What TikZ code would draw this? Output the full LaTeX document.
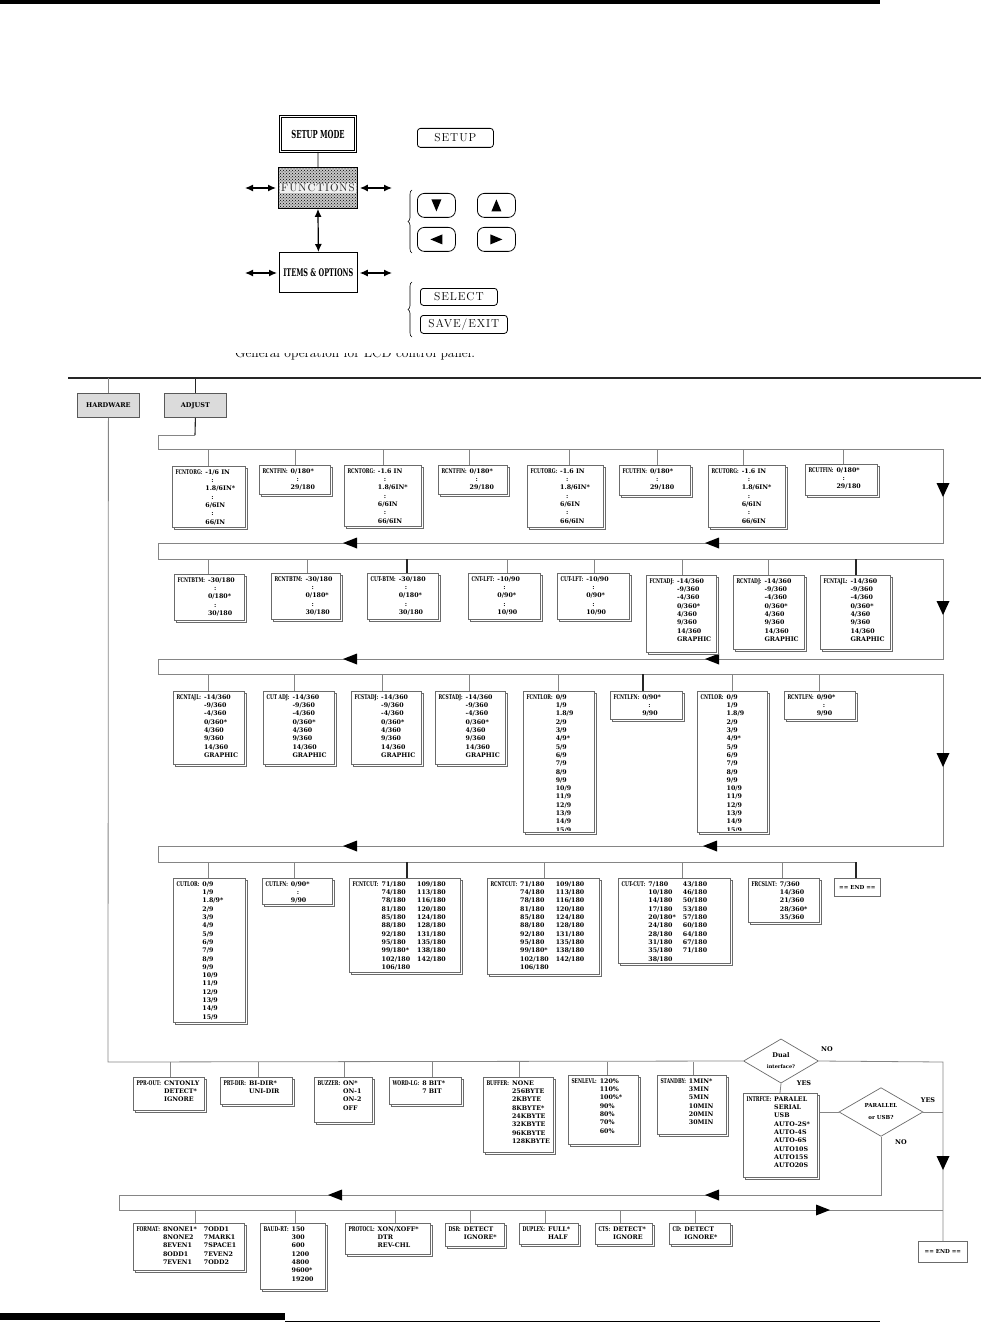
\documentclass[tikz,border=0pt]{standalone}
\usepackage{fontspec}
\usetikzlibrary{shapes.geometric,shadows,patterns,decorations.pathreplacing,arrows.meta}
\newfontfamily\vfam{DejaVu Serif}
\newfontfamily\lfam{DejaVu Serif}[FakeStretch=0.68]
\newfontfamily\cfam{DejaVu Serif}[FakeStretch=0.62]
\newfontfamily\bfam{Latin Modern Roman}[LetterSpace=8]
\definecolor{bd}{gray}{0.42}
\definecolor{bl}{gray}{0.52}
\newcommand\lb[1]{{\lfam\bfseries\fontsize{6.5}{8.3}\selectfont #1}}
\newcommand\cn{\hspace{6pt}:}
\newcommand\vt[1]{{\vfam\bfseries\fontsize{6.3}{8.3}\selectfont\begin{tabular}{@{}l@{\hspace{3pt}}l@{}}#1\end{tabular}}}
\newcommand\vtt[1]{{\vfam\bfseries\fontsize{6.3}{8.3}\selectfont\begin{tabular}{@{}l@{\hspace{3pt}}l@{\hspace{7pt}}l@{}}#1\end{tabular}}}
\newcommand\adjrest{\\ & -9/360\\ & -4/360\\ & 0/360*\\ & 4/360\\ & 9/360\\ & 14/360\\ & GRAPHIC}
\newcommand\lorA{\\ & 1/9\\ & 1.8/9\\ & 2/9\\ & 3/9\\ & 4/9*\\ & 5/9\\ & 6/9\\ & 7/9\\ & 8/9\\ & 9/9\\ & 10/9\\ & 11/9\\ & 12/9\\ & 13/9\\ & 14/9\\ & 15/9}
\newcommand\lorB{\\ & 1/9\\ & 1.8/9*\\ & 2/9\\ & 3/9\\ & 4/9\\ & 5/9\\ & 6/9\\ & 7/9\\ & 8/9\\ & 9/9\\ & 10/9\\ & 11/9\\ & 12/9\\ & 13/9\\ & 14/9\\ & 15/9}
\newcommand\cutrest{\\ & 74/180 & 113/180\\ & 78/180 & 116/180\\ & 81/180 & 120/180\\ & 85/180 & 124/180\\ & 88/180 & 128/180\\ & 92/180 & 131/180\\ & 95/180 & 135/180\\ & 99/180* & 138/180\\ & 102/180 & 142/180\\ & 106/180 &}
\newcommand\obx[6]{%
  \node[obox,minimum width=#4pt,minimum height=#5pt] (#1) at (#2,#3) {};
  \node[otxt] at ([xshift=3.5pt,yshift=-2.5pt]#1.north west) {#6};}
\newcommand\obxc[6]{%
  \node[obox,minimum width=#4pt,minimum height=#5pt] (#1) at (#2,#3) {};
  \begin{scope}
  \clip ([shift={(0.5pt,-0.5pt)}]#1.north west) rectangle ([shift={(-0.5pt,1.5pt)}]#1.south east);
  \node[otxt] at ([xshift=3.5pt,yshift=-2.5pt]#1.north west) {#6};
  \end{scope}}
\newcommand\drop[4][bus]{\draw[#1] (#2,#3) -- (#2,0 |- #4.north);}
\newcommand\tdn[2]{\fill[shift={(#1,#2)}] (-6.5,-7) -- (6.5,-7) -- (0,7) -- cycle;}
\newcommand\tlf[2]{\fill[shift={(#1,#2)}] (-7,0) -- (7,-5.5) -- (7,5.5) -- cycle;}
\newcommand\trt[2]{\fill[shift={(#1,#2)}] (7,0) -- (-7,-5.5) -- (-7,5.5) -- cycle;}
\begin{document}
\begin{tikzpicture}[x=1pt,y=-1pt,
  obox/.style={draw=bd,fill=white,line width=0.7pt,inner sep=0pt,outer sep=0pt,anchor=north west,
    drop shadow={shadow xshift=2.5pt,shadow yshift=-2.5pt,fill=white,draw=bd,opacity=1,line width=0.7pt}},
  otxt/.style={anchor=north west,inner sep=0pt,outer sep=0pt},
  bus/.style={draw=bl,line width=0.8pt},
  busd/.style={draw=black!85,line width=1.1pt},
  hwbox/.style={draw=gray!70!black,fill=gray!28,line width=0.8pt,anchor=north west,minimum width=62pt,
    minimum height=24pt,inner sep=0pt,font=\vfam\bfseries\fontsize{6.5}{8}\selectfont},
  endbox/.style={draw=bd,fill=white,line width=0.7pt,anchor=north west,inner sep=0pt,
    font=\vfam\bfseries\fontsize{5.5}{7}\selectfont},
  dia/.style={diamond,draw=bd,fill=white,line width=0.7pt,inner sep=0pt,align=center},
  yn/.style={font=\vfam\bfseries\fontsize{6.5}{8}\selectfont,inner sep=0pt},
  btn/.style={draw,line width=0.8pt,rounded corners=3pt,anchor=north west,inner sep=0pt,
    font=\bfam\fontsize{11.5}{12}\selectfont},
  abtn/.style={draw,line width=0.8pt,rounded corners=7pt,anchor=north west,inner sep=0pt,
    minimum width=38pt,minimum height=24pt},
  dbl/.style={{Latex[length=8pt,width=7pt]}-{Latex[length=8pt,width=7pt]},line width=1.2pt}]
\useasboundingbox (0,0) rectangle (981,1324);
\fill (0,0) rectangle (880,4);

% ---------- top: LCD panel ----------
\node[draw,double,double distance=1.6pt,line width=0.9pt,minimum width=75pt,minimum height=35pt,
  inner sep=0pt,font=\cfam\bfseries\fontsize{11}{12}\selectfont] (smode) at (318,134) {SETUP MODE};
\node[draw,line width=0.9pt,minimum width=79pt,minimum height=41pt,anchor=north west,inner sep=0pt,
  preaction={fill=gray!45},pattern=crosshatch dots,pattern color=black] (func) at (278,167) {};
\node[fill=gray!12,inner sep=1pt,font=\bfam\fontsize{11}{12}\selectfont,text=black!85] (funct) at (func.center) {FUNCTIONS};
\node[draw,line width=0.8pt,minimum width=78pt,minimum height=40pt,anchor=north west,inner sep=0pt,
  font=\cfam\bfseries\fontsize{10.5}{12}\selectfont] (items) at (279,252) {ITEMS \& OPTIONS};
\draw[line width=0.8pt] (smode.south) -- (func.north);
\draw[dbl] (func.south) -- (items.north);
\coordinate (fl) at (245,188); \coordinate (fr) at (392,188);
\coordinate (il) at (245,273); \coordinate (ir) at (392,273);
\draw[dbl] (fl) -- ([xshift=-2pt]func.west |- fl);
\draw[dbl] ([xshift=2pt]func.east |- fr) -- (fr);
\draw[dbl] (il) -- ([xshift=-2pt]items.west |- il);
\draw[dbl] ([xshift=2pt]items.east |- ir) -- (ir);

\node[btn,minimum width=76pt,minimum height=19pt] (bsetup) at (417,128) {SETUP};
\node[abtn] (bdn) at (417,193) {};
\node[abtn] (bup) at (477,193) {};
\node[abtn] (blf) at (417,227) {};
\node[abtn] (brt) at (477,227) {};
\fill[shift={(bdn.center)}] (-5,-6) -- (5,-6) -- (0,6) -- cycle;
\fill[shift={(bup.center)}] (-5,6) -- (5,6) -- (0,-6) -- cycle;
\fill[shift={(blf.center)}] (-6,0) -- (6,-5) -- (6,5) -- cycle;
\fill[shift={(brt.center)}] (6,0) -- (-6,-5) -- (-6,5) -- cycle;
\node[btn,minimum width=77pt,minimum height=17pt] (bsel) at (420,288) {SELECT};
\node[btn,minimum width=87pt,minimum height=18pt] (bsave) at (420,315) {SAVE/EXIT};
\draw[decorate,decoration={brace,amplitude=4pt},line width=0.6pt] (412,253) -- (412,190);
\draw[decorate,decoration={brace,amplitude=4pt},line width=0.6pt] (412,337) -- (412,282);
\begin{scope}
\clip (200,353.2) rectangle (540,366);
\node[anchor=base west,inner sep=0pt,font=\fontsize{13.5}{15}\selectfont] (cap) at (235,357)
  {General operation for LCD control panel.};
\end{scope}

% ---------- main tree ----------
\draw[line width=1.6pt,black!85] (68,378) -- (981,378);
\node[hwbox] (hw) at (77,393) {HARDWARE};
\node[hwbox] (adj) at (164,393) {ADJUST};
\draw[bus] (hw.north |- 0,378) -- (hw.north);
\draw[busd] (adj.north |- 0,378) -- (adj.north);
\draw[busd] (adj.south) -- (195,435);
\draw[bus] (195,435) -- (158,435) -- (158,449) -- (943,449) -- (943,543) -- (158,543) -- (158,559)
  -- (943,559) -- (943,659) -- (158,659) -- (158,674) -- (943,674) -- (943,846) -- (158,846)
  -- (158,862) -- (856,862);
\tdn{943}{490} \tdn{943}{608} \tdn{943}{760}
\tlf{350}{543} \tlf{712}{543} \tlf{350}{659} \tlf{712}{659} \tlf{350}{846} \tlf{710}{846}

% row 1
\obx{fcntorg}{172}{466}{73}{61}{\vt{\lb{FCNTORG:} & -1/6 IN\\ & \cn\\ & 1.8/6IN*\\ & \cn\\ & 6/6IN\\ & \cn\\ & 66/IN}}
\obx{rcntfina}{259}{465}{71}{29}{\vt{\lb{RCNTFIN:} & 0/180*\\ & \cn\\ & 29/180}}
\obx{rcntorg}{344}{465}{77}{61}{\vt{\lb{RCNTORG:} & -1.6 IN\\ & \cn\\ & 1.8/6IN*\\ & \cn\\ & 6/6IN\\ & \cn\\ & 66/6IN}}
\obx{rcntfinb}{438}{465}{69}{29}{\vt{\lb{RCNTFIN:} & 0/180*\\ & \cn\\ & 29/180}}
\obx{fcutorg}{527}{465}{76}{62}{\vt{\lb{FCUTORG:} & -1.6 IN\\ & \cn\\ & 1.8/6IN*\\ & \cn\\ & 6/6IN\\ & \cn\\ & 66/6IN}}
\obx{fcutfin}{619}{465}{71}{30}{\vt{\lb{FCUTFIN:} & 0/180*\\ & \cn\\ & 29/180}}
\obx{rcutorg}{708}{465}{77}{62}{\vt{\lb{RCUTORG:} & -1.6 IN\\ & \cn\\ & 1.8/6IN*\\ & \cn\\ & 6/6IN\\ & \cn\\ & 66/6IN}}
\obx{rcutfin}{805}{464}{72}{31}{\vt{\lb{RCUTFIN:} & 0/180*\\ & \cn\\ & 29/180}}
\drop{208}{449}{fcntorg} \drop{295}{449}{rcntfina} \drop{383}{449}{rcntorg} \drop{469}{449}{rcntfinb}
\drop{569}{449}{fcutorg} \drop{657}{449}{fcutfin} \drop{743}{449}{rcutorg} \drop{843}{449}{rcutfin}

% row 2
\obx{fcntbtm}{174}{574}{70}{46}{\vt{\lb{FCNTBTM:} & -30/180\\ & \cn\\ & 0/180*\\ & \cn\\ & 30/180}}
\obx{rcntbtm}{271}{573}{69}{46}{\vt{\lb{RCNTBTM:} & -30/180\\ & \cn\\ & 0/180*\\ & \cn\\ & 30/180}}
\obx{cutbtm}{367}{573}{71}{46}{\vt{\lb{CUT-BTM:} & -30/180\\ & \cn\\ & 0/180*\\ & \cn\\ & 30/180}}
\obx{cntlft}{468}{573}{72}{46}{\vt{\lb{CNT-LFT:} & -10/90\\ & \cn\\ & 0/90*\\ & \cn\\ & 10/90}}
\obx{cutlft}{557}{573}{72}{46}{\vt{\lb{CUT-LFT:} & -10/90\\ & \cn\\ & 0/90*\\ & \cn\\ & 10/90}}
\obx{fcntadj}{646}{575}{70}{77}{\vt{\lb{FCNTADJ:} & -14/360\adjrest}}
\obx{rcntadj}{733}{575}{71}{74}{\vt{\lb{RCNTADJ:} & -14/360\adjrest}}
\obx{fcntajl}{820}{575}{70}{74}{\vt{\lb{FCNTAJL:} & -14/360\adjrest}}
\drop{208}{559}{fcntbtm} \drop{307}{559}{rcntbtm} \drop[busd]{407}{559}{cutbtm} \drop{507}{559}{cntlft}
\drop{594}{559}{cutlft} \drop{682}{559}{fcntadj} \drop{768}{559}{rcntadj} \drop[busd]{856}{559}{fcntajl}

% row 3
\obx{rcntajl}{173}{691}{71}{73}{\vt{\lb{RCNTAJL:} & -14/360\adjrest}}
\obx{cutadj}{263}{691}{71}{73}{\vt{\lb{CUT ADJ:} & -14/360\adjrest}}
\obx{fcstadj}{351}{691}{70}{73}{\vt{\lb{FCSTADJ:} & -14/360\adjrest}}
\obx{rcstadj}{435}{691}{70}{73}{\vt{\lb{RCSTADJ:} & -14/360\adjrest}}
\obxc{fcntlor}{523}{691}{71}{141}{\vt{\lb{FCNTLOR:} & 0/9\lorA}}
\obx{fcntlfn}{610}{691}{72}{28}{\vt{\lb{FCNTLFN:} & 0/90*\\ & \cn\\ & 9/90}}
\obxc{cntlor}{697}{691}{70}{141}{\vt{\lb{CNTLOR:} & 0/9\lorA}}
\obx{rcntlfn}{784}{691}{71}{28}{\vt{\lb{RCNTLFN:} & 0/90*\\ & \cn\\ & 9/90}}
\drop{208}{674}{rcntajl} \drop{294}{674}{cutadj} \drop{382}{674}{fcstadj} \drop{469}{674}{rcstadj}
\drop{558}{674}{fcntlor} \drop[busd]{643}{674}{fcntlfn} \drop{732}{674}{cntlor} \drop{819}{674}{rcntlfn}

% row 4
\obx{cutlor}{173}{878}{72}{144}{\vt{\lb{CUTLOR:} & 0/9\lorB}}
\obx{cutlfn}{262}{878}{70}{26}{\vt{\lb{CUTLFN:} & 0/90*\\ & \cn\\ & 9/90}}
\obx{fcntcut}{349}{878}{111}{94}{\vtt{\lb{FCNTCUT:} & 71/180 & 109/180\cutrest}}
\obx{rcntcut}{487}{878}{112}{96}{\vtt{\lb{RCNTCUT:} & 71/180 & 109/180\cutrest}}
\obx{cutcut}{618}{878}{112}{85}{\vtt{\lb{CUT-CUT:} & 7/180 & 43/180\\ & 10/180 & 46/180\\ & 14/180 & 50/180\\ & 17/180 & 53/180\\ & 20/180* & 57/180\\ & 24/180 & 60/180\\ & 28/180 & 64/180\\ & 31/180 & 67/180\\ & 35/180 & 71/180\\ & 38/180 &}}
\obx{frcslnt}{748}{878}{71}{44}{\vt{\lb{FRCSLNT:} & 7/360\\ & 14/360\\ & 21/360\\ & 28/360*\\ & 35/360}}
\node[endbox,minimum width=46pt,minimum height=18pt] (end1) at (834,878) {== END ==};
\drop{208}{862}{cutlor} \drop{294}{862}{cutlfn} \drop[busd]{407}{862}{fcntcut} \drop{544}{862}{rcntcut}
\drop{682}{862}{cutcut} \drop{782}{862}{frcslnt} \drop[busd]{856}{862}{end1}

% ---------- hardware ----------
\node[dia,minimum width=75pt,minimum height=42pt] (dual) at (781,1061)
  {{\vfam\bfseries\fontsize{6.5}{7}\selectfont Dual}\\[-1pt]{\vfam\bfseries\fontsize{5}{6}\selectfont interface?}};
\node[dia,minimum width=84pt,minimum height=42pt] (par) at (881,1112)
  {{\vfam\bfseries\fontsize{5.5}{7}\selectfont PARALLEL}\\{\vfam\bfseries\fontsize{5.5}{7}\selectfont or USB?}};
\draw[bus] (hw.south) -- (108,1062) -- (dual.west);
\draw[bus] (dual.east) -- (943,1062) -- (943,1241);
\tdn{943}{1163}
\node[yn] at (827,1049) {NO};
\node[yn] at (804,1083) {YES};
\node[yn] at (928,1100) {YES};
\node[yn] at (901,1142) {NO};

\obx{pprout}{133}{1077}{71}{33}{\vt{\lb{PPR-OUT:} & CNTONLY\\ & DETECT*\\ & IGNORE}}
\obx{prtdir}{220}{1077}{72}{27}{\vt{\lb{PRT-DIR:} & BI-DIR*\\ & UNI-DIR}}
\obx{buzzer}{314}{1077}{58}{45}{\vt{\lb{BUZZER:} & ON*\\ & ON-1\\ & ON-2\\ & OFF}}
\obx{wordlg}{389}{1077}{72}{27}{\vt{\lb{WORD-LG:} & 8 BIT*\\ & 7 BIT}}
\obx{buffer}{483}{1077}{70}{75}{\vt{\lb{BUFFER:} & NONE\\ & 256BYTE\\ & 2KBYTE\\ & 8KBYTE*\\ & 24KBYTE\\ & 32KBYTE\\ & 96KBYTE\\ & 128KBYTE}}
\obx{senlevl}{568}{1075}{70}{69}{\vt{\lb{SENLEVL:} & 120\%\\ & 110\%\\ & 100\%*\\ & 90\%\\ & 80\%\\ & 70\%\\ & 60\%}}
\obx{standby}{657}{1075}{69}{59}{\vt{\lb{STANDBY:} & 1MIN*\\ & 3MIN\\ & 5MIN\\ & 10MIN\\ & 20MIN\\ & 30MIN}}
\obx{intrfce}{743}{1093}{74}{84}{\vt{\lb{INTRFCE:} & PARALEL\\ & SERIAL\\ & USB\\ & AUTO-2S*\\ & AUTO-4S\\ & AUTO-6S\\ & AUTO10S\\ & AUTO15S\\ & AUTO20S}}
\drop{170}{1062}{pprout} \drop{258}{1062}{prtdir} \drop{344}{1062}{buzzer} \drop{432}{1062}{wordlg}
\drop{519}{1062}{buffer} \drop{607}{1062}{senlevl} \drop{693}{1062}{standby}
\draw[bus] (dual.south) -- (intrfce.north);
\draw[bus] ([xshift=2.5pt]intrfce.east |- par.west) -- (par.west);
\draw[bus] (par.east) -- (943,1112);
\draw[bus] (par.south) -- (881,1195) -- (119,1195) -- (119,1210) -- (943,1210);
\tlf{335}{1195} \tlf{712}{1195} \trt{823}{1210}

\obx{format}{133}{1223}{111}{47}{\vtt{\lb{FORMAT:} & 8NONE1* & 7ODD1\\ & 8NONE2 & 7MARK1\\ & 8EVEN1 & 7SPACE1\\ & 8ODD1 & 7EVEN2\\ & 7EVEN1 & 7ODD2}}
\obx{baudrt}{260}{1223}{65}{66}{\vt{\lb{BAUD-RT:} & 150\\ & 300\\ & 600\\ & 1200\\ & 4800\\ & 9600*\\ & 19200}}
\obx{protocl}{345}{1223}{85}{31}{\vt{\lb{PROTOCL:} & XON/XOFF*\\ & DTR\\ & REV-CHL}}
\obx{dsr}{445}{1223}{59}{23}{\vt{\lb{DSR:} & DETECT\\ & IGNORE*}}
\obx{duplex}{519}{1223}{59}{21}{\vt{\lb{DUPLEX:} & FULL*\\ & HALF}}
\obx{cts}{595}{1223}{57}{21}{\vt{\lb{CTS:} & DETECT*\\ & IGNORE}}
\obx{cd}{669}{1223}{61}{21}{\vt{\lb{CD:} & DETECT\\ & IGNORE*}}
\node[endbox,minimum width=49pt,minimum height=21pt] (end2) at (918,1241) {== END ==};
\drop{195}{1210}{format} \drop{295}{1210}{baudrt} \drop{395}{1210}{protocl} \drop{470}{1210}{dsr}
\drop{545}{1210}{duplex} \drop{620}{1210}{cts} \drop{695}{1210}{cd}

\fill (0,1313) rectangle (285,1320);
\draw[line width=0.8pt] (285,1321.5) -- (880,1321.5);
\end{tikzpicture}
\end{document}
